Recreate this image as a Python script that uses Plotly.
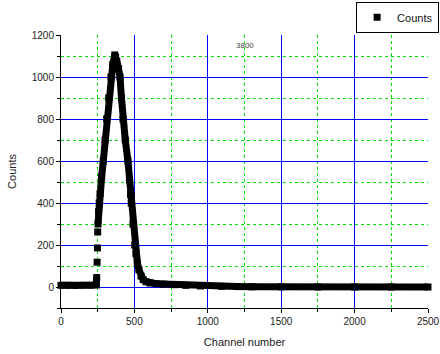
import numpy as np
import plotly.graph_objects as go

# Pulse-height spectrum: channel number vs. counts
channel = [0, 50, 100, 150, 200, 240, 243, 246, 248, 250, 252, 256, 260, 266,
           277, 288, 300, 311, 325, 340, 353, 366, 372, 380, 392, 402, 412, 422,
           438, 456, 466, 474, 478, 490, 502, 510, 520, 531, 545, 560, 580, 606,
           650, 700, 776, 850, 950, 1095, 1200, 1300, 1500, 1750, 2000, 2250, 2500]
counts = [8, 8, 7, 8, 8, 10, 45, 118, 186, 262, 300, 360, 400, 445,
          525, 600, 700, 800, 900, 1000, 1060, 1105, 1095, 1075, 1040, 1000, 900, 800,
          700, 600, 510, 440, 400, 300, 200, 160, 115, 82, 52, 35, 25, 19,
          16, 14, 11, 8, 5, 3, 2, 1, 1, 0, 0, 0, 0]

peak_label = "3800"
peak_label_pos = (1250, 1150)

x_major = [0, 500, 1000, 1500, 2000, 2500]
x_minor = [250, 750, 1250, 1750, 2250]
y_major = [0, 200, 400, 600, 800, 1000, 1200]
y_minor = [-100, 100, 300, 500, 700, 900, 1100]

ch = np.array(channel)
ct = np.array(counts)
low = ch <= 243      # flat region before the threshold
high = ch >= 252     # continuous part of the peak and tail

fig = go.Figure()
for mask in (low, high):
    fig.add_trace(go.Scatter(
        x=ch[mask], y=ct[mask], mode="lines",
        line=dict(color="black", width=7),
        showlegend=False, hoverinfo="skip", cliponaxis=False))
fig.add_trace(go.Scatter(
    x=ch, y=ct, mode="markers", name="Counts",
    marker=dict(symbol="square", size=7, color="black", line=dict(width=0)),
    cliponaxis=False))

fig.add_annotation(x=peak_label_pos[0], y=peak_label_pos[1], text=peak_label,
                   showarrow=False, font=dict(size=8, color="#444"))

sans = "Arial, Liberation Sans, sans-serif"
fig.update_layout(
    width=440, height=354,
    margin=dict(l=61, r=12, t=35, b=46, autoexpand=False),
    paper_bgcolor="white", plot_bgcolor="white",
    font=dict(family=sans, size=10, color="#222"),
    showlegend=True,
    legend=dict(xref="container", yref="container",
                x=0.998, xanchor="right", y=0.995, yanchor="top",
                bordercolor="black", borderwidth=1, bgcolor="white",
                font=dict(family=sans, size=11, color="#111"),
                itemwidth=30, tracegroupgap=0),
    xaxis=dict(
        range=[0, 2500], tickmode="array", tickvals=x_major,
        showline=True, linecolor="black", linewidth=1,
        ticks="outside", ticklen=4, tickcolor="black",
        showgrid=True, gridcolor="rgb(0,0,255)", gridwidth=1, zeroline=False,
        minor=dict(tickmode="array", tickvals=x_minor, ticks="outside", ticklen=3,
                   tickcolor="black", showgrid=True, gridcolor="rgb(0,230,0)",
                   griddash="dot", gridwidth=1),
        title=dict(text="Channel number", font=dict(size=11), standoff=12),
    ),
    yaxis=dict(
        range=[-100, 1200], tickmode="array", tickvals=y_major,
        showline=True, linecolor="black", linewidth=1,
        ticks="outside", ticklen=4, tickcolor="black",
        showgrid=True, gridcolor="rgb(0,0,255)", gridwidth=1, zeroline=False,
        minor=dict(tickmode="array", tickvals=y_minor, ticks="outside", ticklen=3,
                   tickcolor="black", showgrid=True, gridcolor="rgb(0,230,0)",
                   griddash="dot", gridwidth=1),
        title=dict(text="Counts", font=dict(size=11), standoff=12),
    ),
)

fig.write_html("out.html")
